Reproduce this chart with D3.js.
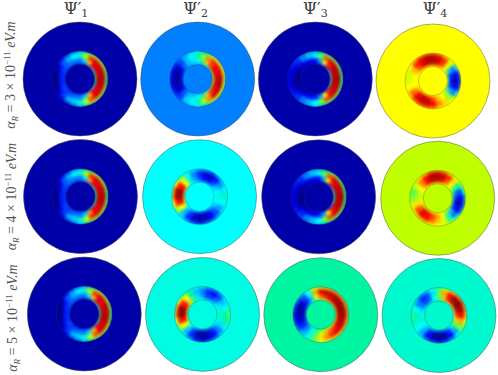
<!DOCTYPE html>
<html>
<head>
<meta charset="utf-8">
<title>Wave functions</title>
<style>
  html, body { margin: 0; background: #fff; }
  svg { display: block; }
  .title { font-family: "DejaVu Serif", serif; font-size: 16px; fill: #3a3a3a; text-anchor: middle; }
  .rowlabel { font-family: "Liberation Serif", serif; font-size: 14px; fill: #555; text-anchor: middle; }
</style>
</head>
<body>
<script src="https://cdn.jsdelivr.net/npm/d3@7"></script>
<script>
// colour levels: 0 navy, 2 blue, 6 cyan, 10 yellow, 14 red, 16 dark red
// each table: 4 rings (inner to outer) x 24 sectors, clockwise from 12 o'clock
var psi1a3 = [
  [2.5,2.5,3,5,6,7,7.5,7,6,5,3,2.5,2.5,2.5,2.5,2.5,3,3,3,3,3,3,3,2.5],
  [4,5.5,11,14,14.5,14.5,15,15,14.5,14,11,5.5,4,4,3.5,3,3,2.5,2.5,2.5,3,3.5,4,4],
  [6.5,9,13.5,14.5,14.5,15,15,15,14.5,14.5,13,9.5,6.5,5.5,5,3,1.5,0.5,0.3,0.5,1.5,3.5,5,6],
  [5.5,7.5,8.5,8.5,8.5,8,7.5,8,8.5,8.5,8.5,7.5,5.5,4,3,1.5,0.5,0.2,0.2,0.2,0.5,2,3,4.5]];
var psi2a3 = [
  [5,5,6,7,8,9,9,9,8,7,6,5,5,4.5,4,3,2.5,2.5,2.5,2.5,3,4,4.5,5],
  [6,7.5,11,13,14,14.5,14.5,14.5,14,13,11,7.5,6,5.5,5,3.5,1.5,0.7,0.7,0.7,1.5,3.5,5,5.5],
  [7,8.5,12,13.5,14,14.5,15,15.5,15,14.5,12,9,7,6,5.5,3,1,0.5,0.3,0.5,1,3,5,6],
  [6,7,8.5,9.5,9.5,9.5,9,9.5,9.5,9.5,8.5,7,6,5.5,4.5,3,2.5,2,2,2,2.5,3.5,4.5,5.5]];
var psi3a3 = [
  [1,1,2,3,5,6,7,6,5,3,2,1.5,1,1,1,1,1,0.5,0.5,0.5,1,1,1,1],
  [2,4.5,10,13.5,14.5,15,15,15,14.5,13.5,10,4.5,2.5,2,1.5,1,0.5,0.2,0.1,0.2,0.5,1,1.5,2],
  [6,8,13,14.5,15,15,15.5,15,15,14.5,13,8.5,6,5,4,2.5,1.5,1,1,1,1.5,2.5,4,5],
  [5,7,8,8,8,7.5,7.5,7.5,8,8,8,7,6,5,4,3,2.5,2,2,2,2.5,3,4,5]];
var psi4a3 = [
  [11,11,11,10,9,7,6,7,8,9.5,10,10.5,11,11.5,11.5,11,10.5,10,10,10,10,10.5,11,11],
  [15,14.5,13,9.5,5,2.5,1.5,2.5,5,8.5,10,11,13,14.5,15,14,12,10,10,10,11,13,14.5,15],
  [15.5,15,13.5,9.5,4,1.5,1,1.5,4,8.5,10.5,12,14,15,15,14.5,12.5,10,9.5,9.5,11,13.5,14.5,15.5],
  [13.5,13,11.5,9.5,5.5,3,2.5,3,5.5,9.5,10.5,11,12.5,13,13,12.5,11,10,9,9,10,11.5,13,13.5]];

var psi1a4 = [
  [2.5,2.5,3,5,6,7,7.5,7,6,5,3,2.5,2.5,2.5,2.5,2.5,3,3,3,3,3,3,3,2.5],
  [4,5.5,11.5,14,14.5,14.5,15,15,14.5,14,11.5,5.5,4,4,3.5,3,3,2.5,2.5,2.5,3,3.5,4,4],
  [6.5,9,13.5,14.5,14.5,15,15,15,14.5,14.5,13.5,9.5,6.5,5.5,5,3,1.5,0.5,0.3,0.5,1.5,3.5,5,6],
  [5.5,7.5,8.5,8.5,8.5,8,7.5,8,8.5,8.5,8.5,7.5,5.5,4,3,1.5,0.5,0.2,0.2,0.2,0.5,2,3,4.5]];
var psi2a4 = [
  [5,4.5,4.5,5,5.5,6,6,6,5.5,5,4.5,4,4,4.5,5,6,8,10,11,11,10.5,8.5,6.5,5.5],
  [3,2,1.5,3,5,6,6.5,6,5,3.5,2,1,0.7,1.5,3,5,10,14,15.5,15.5,14,10,6.5,4.5],
  [2.5,1.2,1,2,4,5.5,6.5,6,4.5,3,1.5,0.7,0.5,1,2.5,5,9.5,13.5,15.5,15.5,13.5,9.5,6,4],
  [4,3.5,3,4,5,6,7,6.5,5.5,4.5,3.5,3,2.5,3,4,5.5,8,10,11.5,11.5,10,8,6.5,5]];
var psi3a4 = [
  [1,1,2,3,5,6,7,6,5,3,2,1.5,1,1,1,1,1,0.5,0.5,0.5,1,1,1,1],
  [2,4.5,10,13.5,14.5,15,15,15,14.5,13.5,10,4.5,2.5,2,1.5,1,0.5,0.2,0.1,0.2,0.5,1,1.5,2],
  [6,8,13,14.5,15,15,15.5,15,15,14.5,13,8.5,6,5,4,2.5,1.5,1,1,1,1.5,2.5,4,5],
  [5,7,8,8,8,7.5,7.5,7.5,8,8,8,7,6,5,4,3,2.5,2,2,2,2.5,3,4,5]];
var psi4a4 = [
  [11,10.5,10.5,10,9,8,7,7,7.5,8.5,9.5,10,10.5,10.5,11,11,10.5,10,9.5,9.5,10,10.5,11,11],
  [15,14.5,12.5,10,7.5,4,2.5,1.5,2.5,5,7.5,10,11.5,13,14,14.5,12.5,10.5,9,9,10,12,14,15],
  [15.5,15,13.5,10.5,7,3,1.5,1,1.5,3.5,6.5,9.5,11,12.5,14,14.5,13,10.5,8.5,8,9.5,12,14,15.5],
  [13,12.5,11,9.5,8,6,4,3.5,4,6,8,9.5,10,10.5,11,11,10.5,9.5,8,7.5,9,10.5,11.5,13]];

var psi1a5 = [
  [2.5,2.5,3,5,6,7,7,7,6,5,3,2.5,2.5,2.5,2.5,2.5,3,3,3,3,3,3,3,2.5],
  [4,5.5,11,14,14.5,14.5,15,15,14.5,14,11,5.5,4,4,3.5,3,3,2.5,2.5,2.5,3,3.5,4,4],
  [6.5,9,13.5,14.5,14.5,15,15,15,14.5,14.5,13,9.5,6.5,5.5,5,3,1.5,0.5,0.3,0.5,1.5,3.5,5,6],
  [5.5,7.5,8.5,8.5,8.5,8,7.5,8,8.5,8.5,8.5,7.5,5.5,4,3,1.5,0.5,0.2,0.2,0.2,0.5,2,3,4.5]];
var psi2a5 = [
  [6,5.5,5.5,5.5,6,6.5,6.5,6.5,6,5.5,4.5,4,4,4.5,5,6,8,10,11,11,10.5,8.5,7,6],
  [4.5,3,3,4,5.5,6.5,6.5,6.5,5.5,4,2.5,1,0.5,1,3,5.5,10,14,15.5,15.5,14,10.5,7.5,5.5],
  [4,2.5,2,3,5,6,7,7,5.5,4,2,0.8,0.2,0.8,2.5,5,9.5,13.5,15.5,15.5,13.5,10,7,5],
  [5,4,3.5,4,5.5,6.5,8,7.5,6,5,3.5,2.5,2,2.5,4,5.5,8,10,11.5,11.5,10,8,7,5.5]];
var psi3a5 = [
  [9,10,10.5,11,11,11.5,11.5,11,10.5,10,9.5,8.5,7.5,6.5,5.5,5,4,3,3,3,3.5,4.5,6,8],
  [12.5,13.5,14.5,15,15.5,15.5,15.5,15,14.5,13.5,12.5,11,9.5,7.5,6,4,2.5,1.5,0.7,0.7,1.2,2.5,5,9.5],
  [14.5,15,15,15.5,15.5,15.5,15.5,15,15,14.5,13.5,12,10.5,8,6.5,4.5,2.5,1,0.7,0.7,1,3,6,11.5],
  [11,11.5,12,12,12,12,12,11.5,11.5,11,11,10.5,10,8,6,5,3.5,2.5,2,2.5,3,4,6,9]];
var psi4a5 = [
  [7,8,9.5,10,10.5,10.5,10,9,7.5,6,5,4,4,4.5,5,5.5,6,6.5,6.5,6,5.5,5,5.5,6.5],
  [8,11,13.5,15,15.5,15,13.5,11,8,5,2.5,1,0.5,1,2.5,5,6,6.5,6.5,5.5,4,3,3.5,6],
  [8,11.5,14,15.5,16,15.5,14,11.5,8,4.5,2,0.5,0.2,0.5,2,4.5,6,6.5,7,6,4,2.5,3,5.5],
  [7.5,9,11,12,12.5,12,11,9.5,8,6,4,2.5,2,2.5,3.5,5,6,7,7.5,6.5,5,4,4.5,6]];

var fields = [
  [psi1a3, psi2a3, psi3a3, psi4a3],
  [psi1a4, psi2a4, psi3a4, psi4a4],
  [psi1a5, psi2a5, psi3a5, psi4a5]
];
// level of the flat outer region of each disc
var discLevels = [
  [0.65, 4, 0.65, 10],
  [0.65, 6, 0.65, 9],
  [0.65, 6.3, 7, 6.5]
];
var columnNames = ["1", "2", "3", "4"];
var rowExponents = ["3", "4", "5"];

var width = 498, height = 375;
var discR = 57, ringOuter = 28, ringInner = 14.5;

var jet = d3.scaleLinear()
    .domain([0, 2, 6, 7, 8, 9, 10, 14, 16])
    .range(["#00007f", "#0000ff", "#00ffff", "#00f5a0", "#66ff44", "#bfff00", "#ffff00", "#ff0000", "#800000"]);

// the panels do not sit on a perfect grid in the figure, every row has its own x range
var xByRow = [
  d3.scaleLinear().domain([0, 3]).range([80, 433]),
  d3.scaleLinear().domain([0, 3]).range([80.5, 437.7]),
  d3.scaleLinear().domain([0, 3]).range([84.3, 439])
];
var yByCol = [
  d3.scaleLinear().domain([0, 2]).range([79, 314]),
  d3.scaleLinear().domain([0, 2]).range([79, 314.4]),
  d3.scaleLinear().domain([0, 2]).range([79, 314.7]),
  d3.scaleLinear().domain([0, 2]).range([81, 315.5])
];

var sector = d3.scaleBand().domain(d3.range(24)).range([0, 2 * Math.PI]);
// middle bands are wider, the field drops off quickly at both walls of the ring
var radius = d3.scaleLinear().domain([0, 1, 2, 3, 4]).range([ringInner, 16.5, 21, 25.5, ringOuter]);
var cellArc = d3.arc();

var svg = d3.select("body").append("svg")
    .attr("width", width)
    .attr("height", height);

var defs = svg.append("defs");
defs.append("filter")
    .attr("id", "soft")
    .attr("color-interpolation-filters", "sRGB")
    .append("feGaussianBlur")
    .attr("stdDeviation", 1.6);
defs.append("clipPath")
    .attr("id", "ringClip")
    .append("path")
    .attr("d", d3.arc()({innerRadius: ringInner, outerRadius: ringOuter, startAngle: 0, endAngle: 2 * Math.PI}));

fields.forEach(function(rowFields, row) {
  rowFields.forEach(function(field, col) {
    var g = svg.append("g")
        .attr("transform", "translate(" + xByRow[row](col) + "," + yByCol[col](row) + ")");

    g.append("circle")
        .attr("r", discR)
        .attr("fill", jet(discLevels[row][col]))
        .attr("stroke", "#555")
        .attr("stroke-opacity", 0.7)
        .attr("stroke-width", 0.7);

    var cells = [];
    field.forEach(function(values, ring) {
      values.forEach(function(v, k) { cells.push({ring: ring, k: k, v: v}); });
    });

    g.append("g")
        .attr("clip-path", "url(#ringClip)")
      .append("g")
        .attr("filter", "url(#soft)")
      .selectAll("path")
      .data(cells)
      .enter().append("path")
        .attr("d", function(d) {
          return cellArc({
            innerRadius: radius(d.ring),
            outerRadius: radius(d.ring + 1),
            startAngle: sector(d.k) - sector.bandwidth() / 2,
            endAngle: sector(d.k) + sector.bandwidth() / 2
          });
        })
        .attr("fill", function(d) { return jet(d.v); })
        .attr("stroke", function(d) { return jet(d.v); })
        .attr("stroke-width", 0.4);

    g.selectAll("circle.edge")
      .data([ringInner, ringOuter])
      .enter().append("circle")
        .attr("class", "edge")
        .attr("r", function(d) { return d; })
        .attr("fill", "none")
        .attr("stroke", "#333")
        .attr("stroke-opacity", 0.45)
        .attr("stroke-width", 0.6);
  });
});

// column titles
var titleX = d3.scaleLinear().domain([0, 3]).range([76, 435]);
columnNames.forEach(function(name, col) {
  var t = svg.append("text")
      .attr("class", "title")
      .attr("x", titleX(col))
      .attr("y", 14);
  t.append("tspan").text("Ψ′");
  t.append("tspan").attr("dy", 3).attr("font-size", 11).text(name);
});

// row labels
var labelX = d3.scaleLinear().domain([0, 2]).range([15, 17]);
var labelY = d3.scaleLinear().domain([0, 2]).range([75, 318]);
rowExponents.forEach(function(base, row) {
  var t = svg.append("text")
      .attr("class", "rowlabel")
      .attr("transform", "translate(" + labelX(row) + "," + labelY(row) + ") rotate(-90)");
  t.append("tspan").attr("font-style", "italic").text("α");
  t.append("tspan").attr("dy", 3).attr("font-size", 9).attr("font-style", "italic").text("R");
  t.append("tspan").attr("dy", -3).text(" = " + base + " × 10");
  t.append("tspan").attr("dy", -5).attr("font-size", 9).text("−11");
  t.append("tspan").attr("dy", 5).attr("font-style", "italic").text(" eV.m");
});
</script>
</body>
</html>
